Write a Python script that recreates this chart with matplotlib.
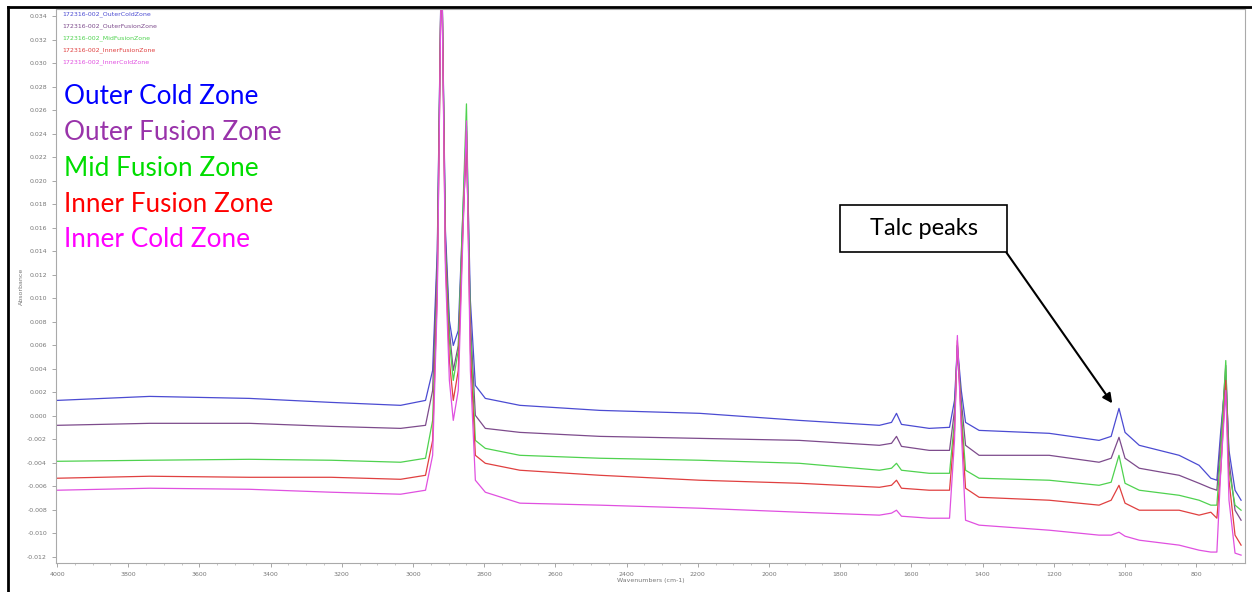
import numpy as np
import matplotlib.pyplot as plt
from matplotlib.lines import Line2D
from matplotlib.patches import Rectangle
from matplotlib.ticker import MultipleLocator, FormatStrFormatter

# wavenumbers (cm-1)
wavenumbers = [4000, 3740, 3460, 3230, 3035, 2965, 2945, 2932, 2920, 2909,
               2898, 2887, 2873, 2862, 2850, 2839, 2825, 2797, 2700, 2475,
               2195, 1915, 1690, 1656, 1642, 1628, 1550, 1493, 1479, 1471,
               1460, 1448, 1410, 1213, 1073, 1039, 1017, 1000, 960, 848,
               792, 759, 742, 731, 717, 708, 691, 674]

outer_cold = [0.00131, 0.00165, 0.00148, 0.00114, 0.00089, 0.00131, 0.00386, 0.01405, 0.040, 0.01574,
              0.00810, 0.00598, 0.00725, 0.01574, 0.02466, 0.00980, 0.00258, 0.00148, 0.00089, 0.00046,
              0.00021, -0.00039, -0.00081, -0.00056, 0.00021, -0.00073, -0.00107, -0.00098, 0.00131, 0.00598,
              0.00216, -0.00056, -0.00124, -0.00149, -0.00209, -0.00175, 0.00063, -0.00141, -0.00251, -0.00336,
              -0.00421, -0.00531, -0.00548, -0.00124, 0.00343, -0.00294, -0.00633, -0.00718]

outer_fusion = [-0.00081, -0.00064, -0.00064, -0.00090, -0.00107, -0.00081, 0.00216, 0.01320, 0.040, 0.01489,
                0.00725, 0.00386, 0.00598, 0.01489, 0.02338, 0.00810, 0.00004, -0.00107, -0.00141, -0.00175,
                -0.00192, -0.00209, -0.00251, -0.00234, -0.00175, -0.00260, -0.00294, -0.00294, 0.00046, 0.00555,
                0.00131, -0.00251, -0.00336, -0.00336, -0.00395, -0.00361, -0.00183, -0.00361, -0.00446, -0.00506,
                -0.00574, -0.00616, -0.00633, -0.00209, 0.00428, -0.00378, -0.00803, -0.00888]

mid_fusion = [-0.00387, -0.00378, -0.00370, -0.00378, -0.00395, -0.00361, -0.00039, 0.01150, 0.040, 0.01405,
              0.00640, 0.00301, 0.00555, 0.01574, 0.02653, 0.00725, -0.00209, -0.00277, -0.00336, -0.00361,
              -0.00378, -0.00404, -0.00463, -0.00446, -0.00404, -0.00463, -0.00489, -0.00489, -0.00039, 0.00598,
              0.00046, -0.00463, -0.00531, -0.00548, -0.00591, -0.00565, -0.00336, -0.00574, -0.00633, -0.00676,
              -0.00718, -0.00760, -0.00760, -0.00294, 0.00470, -0.00463, -0.00760, -0.00803]

inner_fusion = [-0.00531, -0.00514, -0.00523, -0.00523, -0.00540, -0.00506, -0.00209, 0.01065, 0.040, 0.01320,
                0.00470, 0.00131, 0.00386, 0.01405, 0.02423, 0.00555, -0.00336, -0.00404, -0.00463, -0.00506,
                -0.00548, -0.00574, -0.00608, -0.00591, -0.00548, -0.00616, -0.00633, -0.00633, -0.00124, 0.00640,
                -0.00039, -0.00616, -0.00693, -0.00718, -0.00760, -0.00718, -0.00591, -0.00743, -0.00803, -0.00803,
                -0.00845, -0.00820, -0.00871, -0.00463, 0.00301, -0.00548, -0.01015, -0.01100]

inner_cold = [-0.00633, -0.00616, -0.00625, -0.00650, -0.00667, -0.00633, -0.00336, 0.00980, 0.040, 0.01235,
              0.00301, -0.00039, 0.00216, 0.01320, 0.02508, 0.00386, -0.00548, -0.00650, -0.00743, -0.00760,
              -0.00786, -0.00820, -0.00845, -0.00828, -0.00803, -0.00854, -0.00871, -0.00871, -0.00209, 0.00683,
              -0.00124, -0.00888, -0.00930, -0.00973, -0.01015, -0.01015, -0.00990, -0.01024, -0.01058, -0.01100,
              -0.01143, -0.01159, -0.01159, -0.00463, 0.00216, -0.00718, -0.01168, -0.01185]

file_names = ['172316-002_OuterColdZone', '172316-002_OuterFusionZone', '172316-002_MidFusionZone',
              '172316-002_InnerFusionZone', '172316-002_InnerColdZone']
zone_names = ['Outer Cold Zone', 'Outer Fusion Zone', 'Mid Fusion Zone', 'Inner Fusion Zone', 'Inner Cold Zone']
line_colors = ['#4b4bd2', '#7d4b8c', '#4fd24f', '#e04040', '#e050e0']
text_colors = ['#0000ff', '#9933aa', '#00dd00', '#ff0000', '#ff00ff']

series = [outer_cold, outer_fusion, mid_fusion, inner_fusion, inner_cold]

W, H = 1252, 592
fig = plt.figure(figsize=(W / 100, H / 100), dpi=100)
ax = fig.add_axes([56 / W, 1 - 563 / H, (1245 - 56) / W, (563 - 9) / H])

for vals, c in zip(series, line_colors):
    ax.plot(wavenumbers, vals, color=c, linewidth=0.9)

ax.set_xlim(4003, 663)
ax.set_ylim(-0.01252, 0.0346)
ax.xaxis.set_major_locator(MultipleLocator(200))
ax.xaxis.set_minor_locator(MultipleLocator(50))
ax.yaxis.set_major_locator(MultipleLocator(0.002))
ax.yaxis.set_major_formatter(FormatStrFormatter('%.3f'))
ax.tick_params(labelsize=4.5, labelcolor='#777777', color='#999999', length=3, width=0.6)
ax.tick_params(which='minor', color='#bbbbbb', length=1.5)
for s in ax.spines.values():
    s.set_color('#aaaaaa')
    s.set_linewidth(0.8)
ax.set_ylabel('Absorbance', fontsize=4.5, color='#777777', labelpad=2)
ax.set_xlabel('Wavenumbers (cm-1)', fontsize=4.5, color='#777777', labelpad=1)

# small file legend at top left
for i, (name, c) in enumerate(zip(file_names, line_colors)):
    fig.text(62 / W, 1 - (14 + 12 * i) / H, name, fontsize=4.5, color=c, va='center')

# big zone labels
for i, (name, c) in enumerate(zip(zone_names, text_colors)):
    fig.text(64 / W, 1 - (97 + 35.7 * i) / H, name, fontsize=18.8, color=c,
             va='center', family='Lato')

# callout box + arrow
fig.add_artist(Rectangle((840 / W, 1 - 252 / H), 167 / W, 47 / H, transform=fig.transFigure,
                         facecolor='white', edgecolor='black', lw=1.2))
fig.text(923.5 / W, 1 - 228.5 / H, 'Talc peaks', fontsize=17, family='Lato', ha='center', va='center')
ax.annotate('', xy=(1036, 0.00106), xytext=(1333, 0.01388),
            arrowprops=dict(arrowstyle='-|>', color='black', lw=1.5, mutation_scale=14,
                            shrinkA=0, shrinkB=0))

# screenshot frame
fig.add_artist(Line2D([8 / W, 8 / W], [0, 1 - 7 / H], color='black', lw=2))
fig.add_artist(Line2D([8 / W, 1], [1 - 7 / H, 1 - 7 / H], color='black', lw=2))

fig.savefig('out.png', dpi=100)
